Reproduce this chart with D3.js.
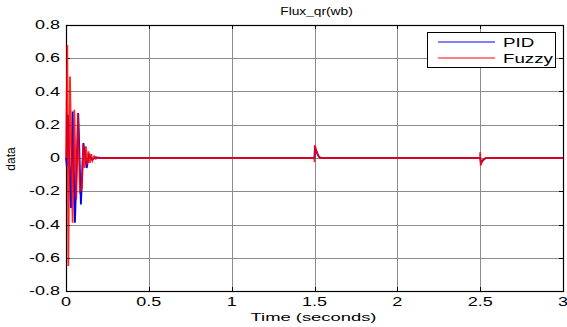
<!DOCTYPE html>
<html>
<head>
<meta charset="utf-8">
<script src="https://d3js.org/d3.v7.min.js"></script>
<style>
  body { margin: 0; background: #fff; }
  svg { display: block; font-family: "Liberation Sans", Arial, sans-serif; }
</style>
</head>
<body>
<div id="chart"></div>
<script>
// values
var pidTime  = [0, 0.005, 0.011, 0.030, 0.040, 0.054, 0.074, 0.090, 0.105, 0.125, 0.139, 0.157, 0.18, 0.20,
                1.499, 1.500, 1.503, 1.508, 1.515, 1.525, 1.535,
                2.499, 2.500, 2.505, 2.512, 2.520, 2.530, 2.540, 3];
var pidValue = [0, -0.05, 0.26, -0.30, 0.28, -0.39, 0.27, -0.28, 0.09, -0.06, 0.02, -0.01, 0.005, 0,
                0, 0, 0.06, 0.05, 0.03, 0.01, 0,
                0, 0, -0.03, -0.02, -0.01, -0.003, 0, 0];

var fuzzyTime  = [0, 0.008, 0.014, 0.024, 0.040, 0.050, 0.062, 0.072, 0.084, 0.096, 0.104, 0.112, 0.120,
                  0.128, 0.136, 0.144, 0.152, 0.160, 0.170, 0.180, 0.195, 0.21,
                  1.499, 1.500, 1.502, 1.506, 1.510, 1.515, 1.520, 1.530, 1.540,
                  2.499, 2.500, 2.503, 2.508, 2.515, 2.525, 2.535, 3];
var fuzzyValue = [0, 0.68, -0.65, 0.49, -0.39, 0.29, -0.25, 0.27, -0.20, -0.18, 0.08, -0.06, 0.07,
                  -0.04, 0.04, -0.03, 0.025, -0.015, 0.01, -0.005, 0.003, 0,
                  0, -0.025, 0.075, 0.065, 0.045, 0.035, 0.02, 0.005, 0,
                  0, 0.035, -0.045, -0.03, -0.015, -0.005, 0, 0];

var xTicks = [0, 0.5, 1, 1.5, 2, 2.5, 3];
var yTicks = [-0.8, -0.6, -0.4, -0.2, 0, 0.2, 0.4, 0.6, 0.8];
var seriesNames = ["PID", "Fuzzy"];
var seriesColors = ["#0000ff", "#ff0000"];

var W = 567, H = 327;
var margin = {top: 25, left: 66, right: 4, bottom: 36},
    width  = W - margin.left - margin.right,
    height = H - margin.top - margin.bottom;

var svg = d3.select("#chart").append("svg")
    .attr("width", W).attr("height", H);

var g = svg.append("g").attr("transform", "translate(" + margin.left + "," + margin.top + ")");

var x = d3.scaleLinear().domain([0, 3]).range([0, width]),
    y = d3.scaleLinear().domain([-0.8, 0.8]).range([height, 0]);

var fmt = function(d) { return String(+d.toFixed(1)); };

// text stretched sideways like the exported figure
function stretched(sel, px, py, sx, anchor, size, txt) {
  sel.append("text")
    .attr("transform", "translate(" + px + "," + py + ") scale(" + sx + ",1)")
    .attr("text-anchor", anchor).attr("font-size", size)
    .text(txt);
}

// grid
g.append("g").selectAll("line").data(xTicks.slice(1, -1)).enter().append("line")
    .attr("x1", d => Math.round(x(d)) + 0.5).attr("x2", d => Math.round(x(d)) + 0.5)
    .attr("y1", 0).attr("y2", height)
    .attr("stroke", "#8c8c8c").attr("stroke-width", 1);
g.append("g").selectAll("line").data(yTicks.slice(1, -1)).enter().append("line")
    .attr("y1", d => Math.round(y(d)) + 0.5).attr("y2", d => Math.round(y(d)) + 0.5)
    .attr("x1", 0).attr("x2", width)
    .attr("stroke", "#8c8c8c").attr("stroke-width", 1);

// inner ticks on all four sides
var tk = 4;
var ticks = g.append("g").attr("stroke", "#000").attr("stroke-width", 1);
xTicks.forEach(function(d) {
  var px = Math.round(x(d)) + 0.5;
  ticks.append("line").attr("x1", px).attr("x2", px).attr("y1", height).attr("y2", height - tk);
  ticks.append("line").attr("x1", px).attr("x2", px).attr("y1", 0).attr("y2", tk);
});
yTicks.forEach(function(d) {
  var py = Math.round(y(d)) + 0.5;
  ticks.append("line").attr("y1", py).attr("y2", py).attr("x1", 0).attr("x2", tk);
  ticks.append("line").attr("y1", py).attr("y2", py).attr("x1", width).attr("x2", width - tk);
});

// box
g.append("rect").attr("x", 0.5).attr("y", 0.5).attr("width", width).attr("height", height)
    .attr("fill", "none").attr("stroke", "#000").attr("stroke-width", 1.2);

// lines
var line = d3.line()
    .x(function(d) { return x(d[0]); })
    .y(function(d) { return y(d[1]); });

var pid = d3.zip(pidTime, pidValue),
    fuzzy = d3.zip(fuzzyTime, fuzzyValue);

g.append("path").datum(pid)
    .attr("fill", "none").attr("stroke", seriesColors[0]).attr("stroke-width", 1.8)
    .attr("d", line);
g.append("path").datum(fuzzy)
    .attr("fill", "none").attr("stroke", seriesColors[1]).attr("stroke-width", 1.8)
    .attr("stroke-opacity", 0.85)
    .attr("d", line);

// tick labels
var xl = g.append("g");
xTicks.forEach(function(d) { stretched(xl, x(d), height + 15, 1.5, "middle", 12, fmt(d)); });
var yl = g.append("g");
yTicks.forEach(function(d) { stretched(yl, -6, y(d) + 4, 1.5, "end", 12, fmt(d)); });

// titles
stretched(svg, margin.left + width / 2 + 2, 15, 1.25, "middle", 11, "Flux_qr(wb)");
stretched(svg, margin.left + width / 2 - 1, 321, 1.6, "middle", 11.5, "Time (seconds)");
svg.append("text").attr("transform", "translate(15," + (margin.top + height / 2 + 1) + ") rotate(-90)")
    .attr("text-anchor", "middle").attr("font-size", 12).text("data");

// legend
var lg = svg.append("g").attr("transform", "translate(427,32)");
lg.append("rect").attr("x", 0.5).attr("y", 0.5).attr("width", 128).attr("height", 35)
    .attr("fill", "#fff").attr("stroke", "#000").attr("stroke-width", 1);
seriesNames.forEach(function(name, i) {
  var ly = 10 + i * 16;
  lg.append("line").attr("x1", 11).attr("x2", 68).attr("y1", ly).attr("y2", ly)
    .attr("stroke", seriesColors[i]).attr("stroke-width", 1);
  stretched(lg, 76, ly + 5, 1.5, "start", 12.5, name);
});
</script>
</body>
</html>
